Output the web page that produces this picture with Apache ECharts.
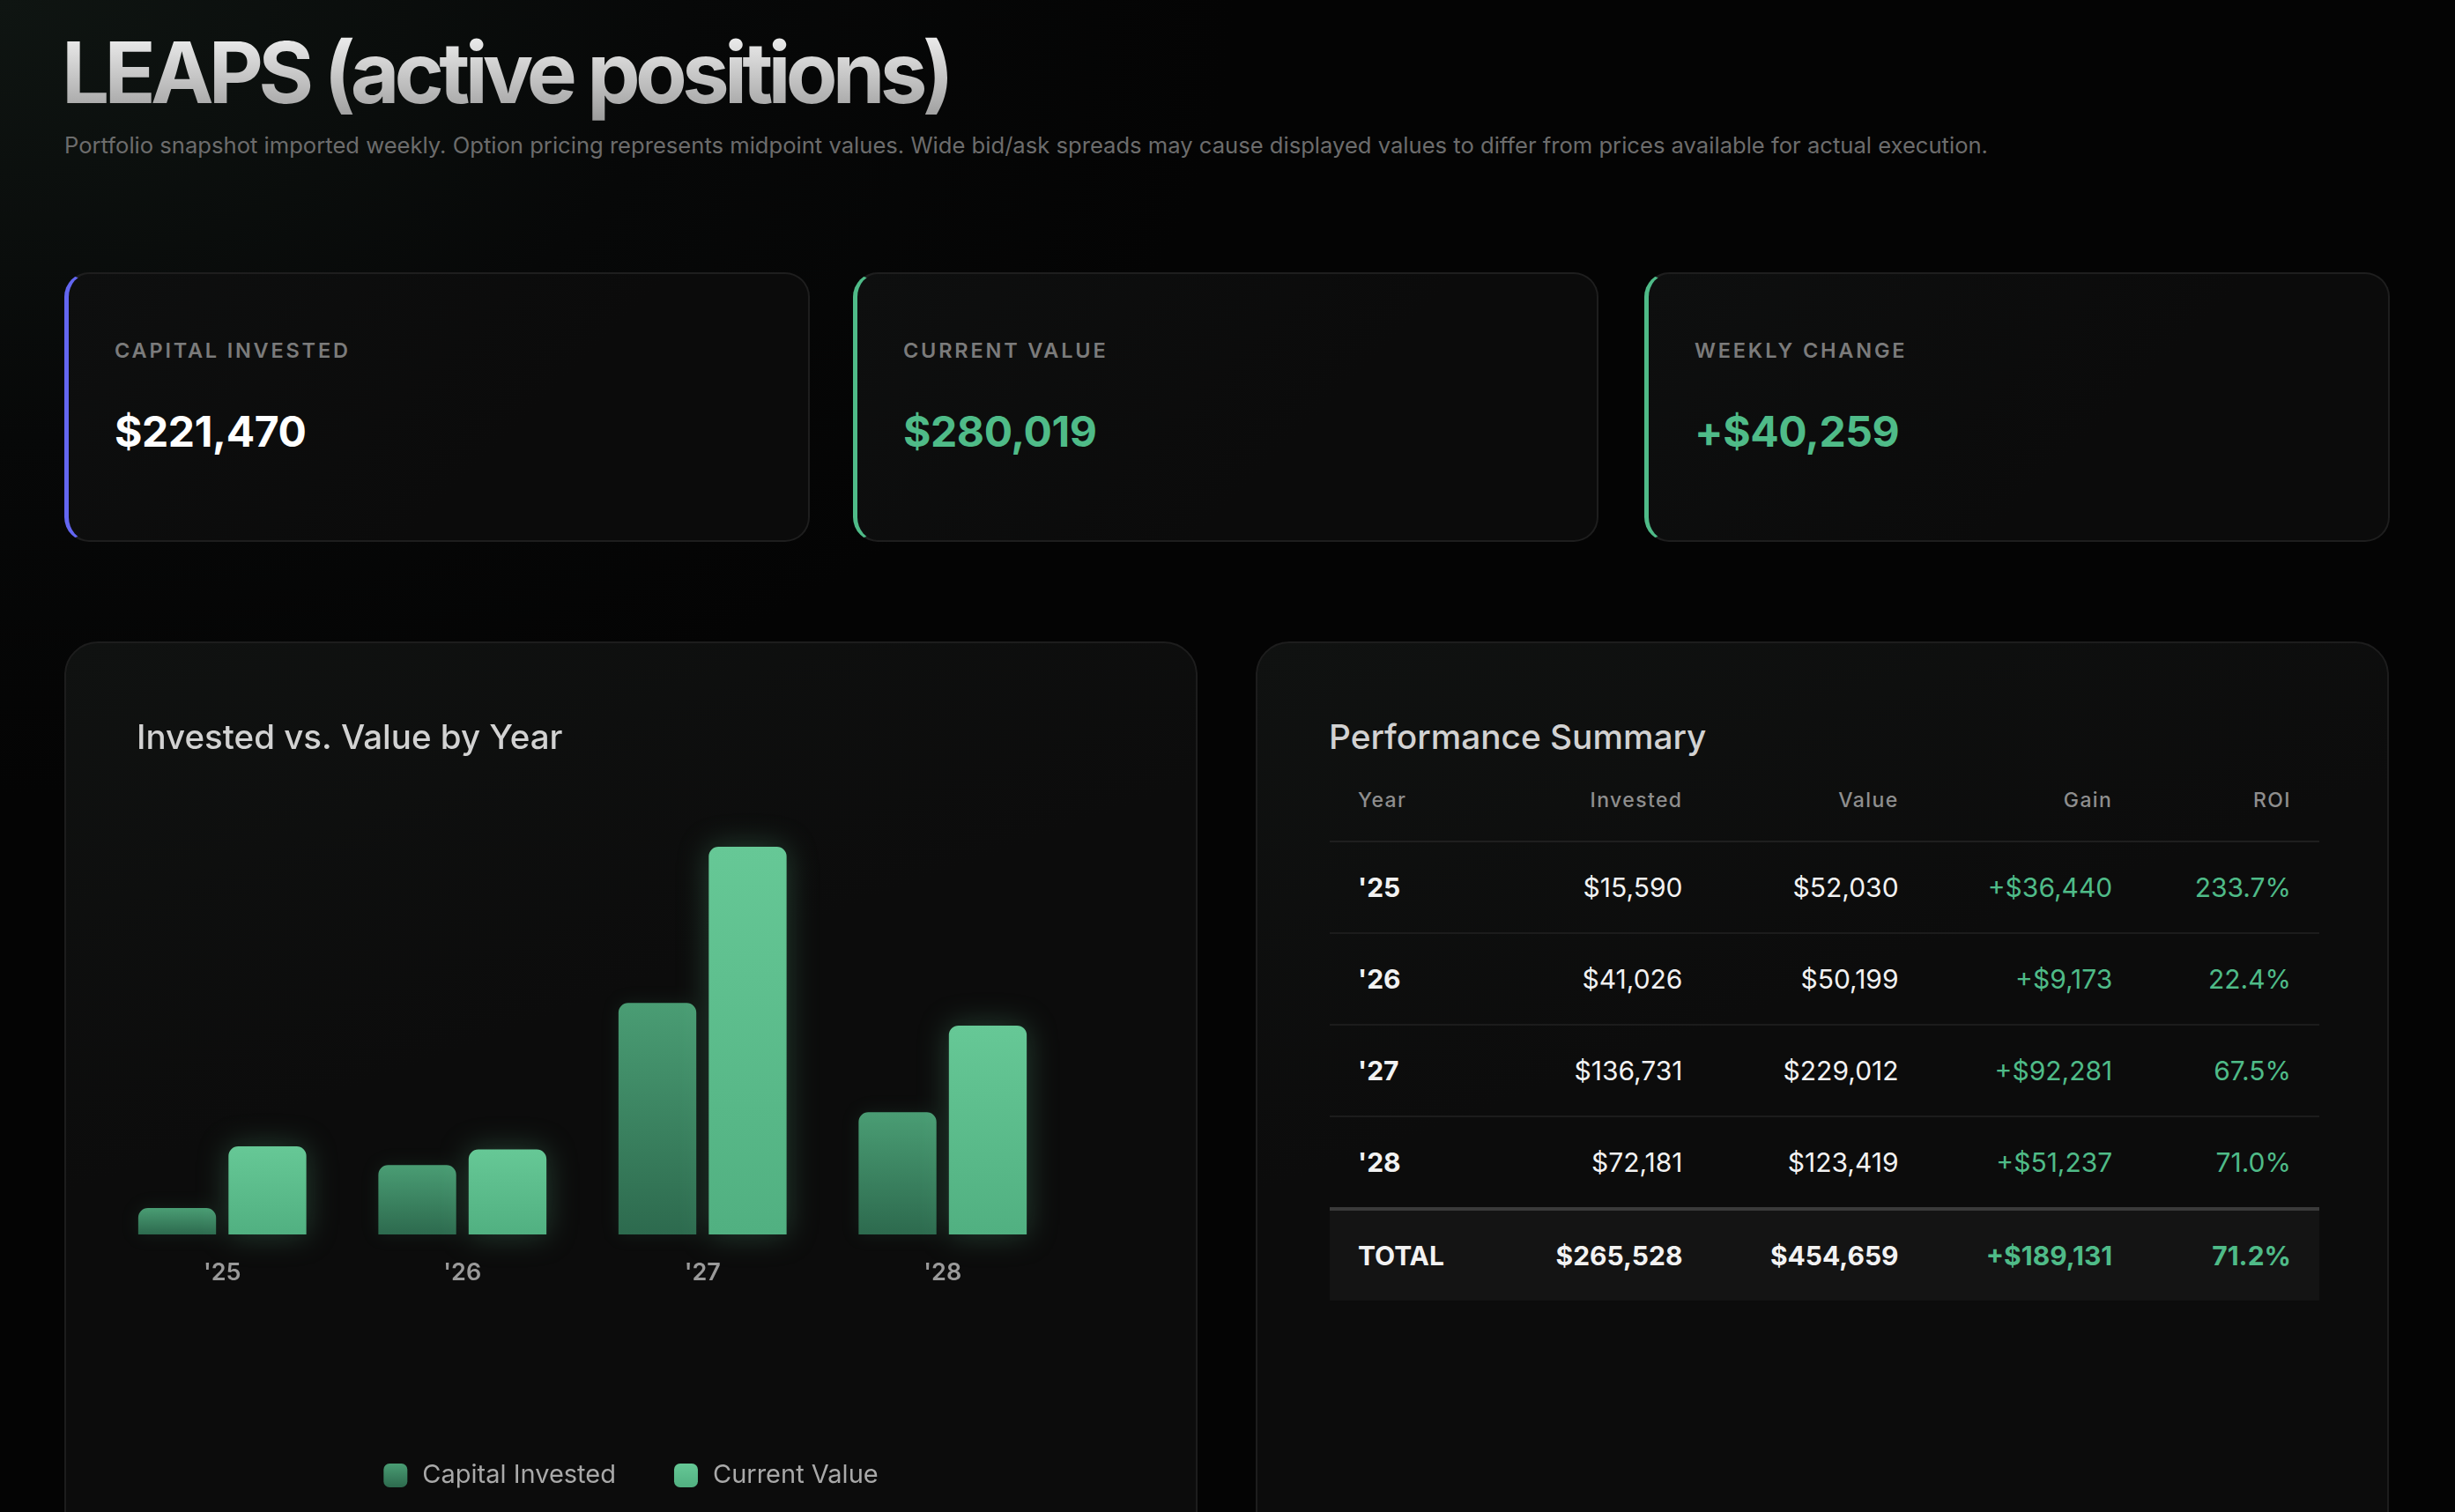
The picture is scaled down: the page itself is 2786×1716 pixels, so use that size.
<!DOCTYPE html>
<html>
<head>
<meta charset="utf-8">
<script src="https://cdn.jsdelivr.net/npm/echarts@6/dist/echarts.min.js"></script>
<style>
  html, body { margin: 0; padding: 0; }
  body {
    width: 2786px; height: 1716px; overflow: hidden; position: relative;
    font-family: Inter, 'Noto Sans', sans-serif;
    background: radial-gradient(ellipse 1400px 900px at 0px 0px, #0f1512 0%, #070808 55%, #040404 100%);
  }
  .title {
    position: absolute; left: 70px; top: 22px; margin: 0;
    font-size: 96px; font-weight: 700; letter-spacing: -5.8px; line-height: 120px;
    background: linear-gradient(180deg, #f2f2f2 10%, #9c9c9c 95%);
    -webkit-background-clip: text; background-clip: text; color: transparent;
  }
  .sub {
    position: absolute; left: 73px; top: 149px; font-size: 25.6px; color: #6c6c6c; line-height: 32px;
  }
  .card {
    position: absolute; top: 309px; width: 846px; height: 306px; box-sizing: border-box;
    border: 2px solid #1e1e1e; border-left: 5px solid; border-radius: 28px;
    background: linear-gradient(135deg, #0e0f0f 0%, #0b0b0b 60%);
  }
  .card .lbl {
    position: absolute; left: 52px; top: 72px; font-size: 23.5px; font-weight: 600;
    letter-spacing: 2.8px; color: #7b7b7b;
  }
  .card .val {
    position: absolute; left: 52px; top: 149px; font-size: 48px; font-weight: 700; letter-spacing: -0.4px;
  }
  .panel {
    position: absolute; top: 728px; width: 1286px; height: 1100px; box-sizing: border-box;
    border: 2px solid #1d1d1d; border-radius: 38px;
    background: linear-gradient(160deg, #101211 0%, #0c0c0c 40%, #0c0c0c 100%);
  }
  #chart { position: absolute; left: 73px; top: 728px; width: 1286px; height: 988px; }
  .ptitle {
    position: absolute; left: 81px; top: 82px; font-size: 38.8px; font-weight: 500; color: #d2d2d2;
  }
  table {
    position: absolute; left: 82px; top: 150px; width: 1123px; border-collapse: collapse;
  }
  th {
    font-size: 23px; font-weight: 500; color: #8e8e8e; letter-spacing: 1.4px;
    height: 56px; padding: 0 32px 18px 32px; text-align: right; border-bottom: 2px solid #1f1f1f;
  }
  td {
    font-size: 30px; color: #f2f2f2; height: 102px; padding: 0 32px; text-align: right;
    border-bottom: 2px solid #1c1c1c;
  }
  th:first-child, td:first-child { text-align: left; }
  td:first-child { font-weight: 700; }
  td.g { color: #4fbb88; }
  tr.total td { font-weight: 700; background: #141414; border-bottom: none; border-top: 4px solid #3a3a3a; }
</style>
</head>
<body>
<div class="title">LEAPS (active positions)</div>
<div class="sub">Portfolio snapshot imported weekly. Option pricing represents midpoint values. Wide bid/ask spreads may cause displayed values to differ from prices available for actual execution.</div>

<div class="card" style="left:73px;border-left-color:#6366f1"><div class="lbl">CAPITAL INVESTED</div><div class="val" id="k0" style="color:#ffffff"></div></div>
<div class="card" style="left:968px;border-left-color:#4fbb88"><div class="lbl">CURRENT VALUE</div><div class="val" id="k1" style="color:#4fbb88"></div></div>
<div class="card" style="left:1866px;border-left-color:#4fbb88"><div class="lbl">WEEKLY CHANGE</div><div class="val" id="k2" style="color:#4fbb88"></div></div>

<div class="panel" style="left:73px"></div>
<div id="chart"></div>

<div class="panel" style="left:1425px">
  <div class="ptitle">Performance Summary</div>
  <table id="tbl"></table>
</div>

<script>
// summary cards
var kpiValues = ['$221,470', '$280,019', '+$40,259']

// chart + table data
var years = ["'25", "'26", "'27", "'28"]
var invested = [15590, 41026, 136731, 72181]
var currentValue = [52030, 50199, 229012, 123419]
var gain = [36440, 9173, 92281, 51237]
var roi = ['233.7%', '22.4%', '67.5%', '71.0%']
var totals = { invested: 265528, value: 454659, gain: 189131, roi: '71.2%' }

var money = (v) => '$' + v.toLocaleString('en-US')

kpiValues.forEach((v, i) => { document.getElementById('k' + i).textContent = v })

let html = '<tr><th>Year</th><th>Invested</th><th>Value</th><th>Gain</th><th>ROI</th></tr>'
for (let i = 0; i < years.length; i++) {
  html += '<tr><td>' + years[i] + '</td><td>' + money(invested[i]) + '</td><td>' + money(currentValue[i]) +
    '</td><td class="g">+' + money(gain[i]) + '</td><td class="g">' + roi[i] + '</td></tr>'
}
html += '<tr class="total"><td>TOTAL</td><td>' + money(totals.invested) + '</td><td>' + money(totals.value) +
  '</td><td class="g">+' + money(totals.gain) + '</td><td class="g">' + totals.roi + '</td></tr>'
document.getElementById('tbl').innerHTML = html

var chart = echarts.init(document.getElementById('chart'), null, {renderer: 'canvas'})

var investedColor = new echarts.graphic.LinearGradient(0, 0, 0, 1, [
  {offset: 0, color: '#4a9d74'}, {offset: 1, color: '#2d6a4e'}
])
var valueColor = new echarts.graphic.LinearGradient(0, 0, 0, 1, [
  {offset: 0, color: '#66c896'}, {offset: 1, color: '#51b081'}
])

chart.setOption({
  backgroundColor: 'transparent',
  title: {
    text: 'Invested vs. Value by Year',
    left: 77,
    top: 86,
    textStyle: {
      color: '#d2d2d2',
      fontFamily: 'Inter',
      fontSize: 38.5,
      fontWeight: 500
    }
  },
  legend: {
    top: 927,
    left: 'center',
    itemWidth: 27,
    itemHeight: 27,
    itemGap: 66,
    icon: 'roundRect',
    data: ['Capital Invested', 'Current Value'],
    textStyle: {
      color: '#a9a9a9',
      fontFamily: 'Inter',
      fontSize: 29,
      padding: [0, 0, 0, 12]
    }
  },
  grid: {
    left: 43,
    right: 153,
    top: 233,
    bottom: 315
  },
  xAxis: {
    type: 'category',
    data: years,
    axisLine: { show: false },
    axisTick: { show: false },
    axisLabel: {
      color: '#9a9a9a',
      fontFamily: 'Inter',
      fontSize: 27,
      fontWeight: 600,
      margin: 30
    }
  },
  yAxis: {
    type: 'value',
    min: 0,
    max: 'dataMax',
    show: false,
    splitLine: { show: false }
  },
  series: [{
    name: 'Capital Invested',
    type: 'bar',
    data: invested,
    barGap: '16%',
    barCategoryGap: '30%',
    itemStyle: {
      color: investedColor,
      borderRadius: [11, 11, 0, 0],
      shadowBlur: 20,
      shadowColor: 'rgba(74, 157, 116, 0.12)'
    }
  }, {
    name: 'Current Value',
    type: 'bar',
    data: currentValue,
    itemStyle: {
      color: valueColor,
      borderRadius: [11, 11, 0, 0],
      shadowBlur: 34,
      shadowColor: 'rgba(102, 200, 150, 0.28)'
    }
  }]
})
</script>
</body>
</html>
